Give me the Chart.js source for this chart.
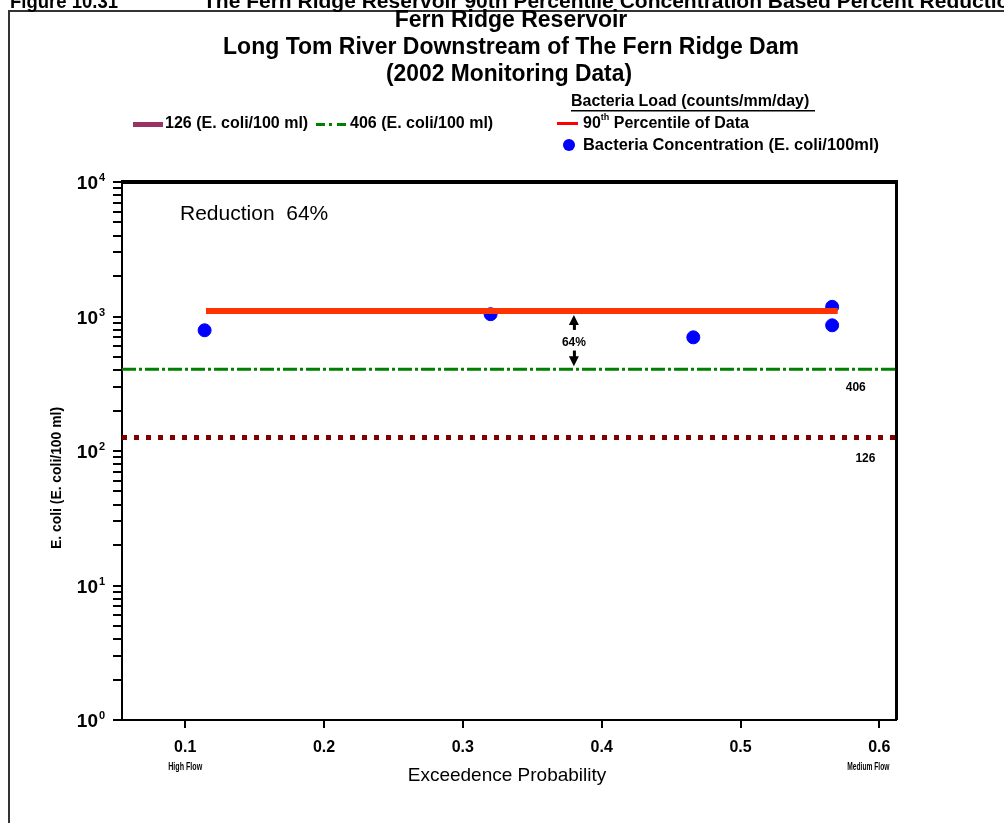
<!DOCTYPE html>
<html>
<head>
<meta charset="utf-8">
<script src="https://cdn.jsdelivr.net/npm/chart.js@4.4.0/dist/chart.umd.min.js"></script>
<style>
body{margin:0;background:#fff}
</style>
</head>
<body>
<canvas id="chart" width="1004" height="823"></canvas>
<script>
// monitoring samples (exceedence probability, E. coli /100 ml)
const exceedence = [0.114, 0.320, 0.466, 0.566, 0.566]
const ecoli = [790, 1040, 700, 1180, 860]

// 90th percentile of data
const pctX = [0.115, 0.570]
const pctY = [1100, 1100]

// criteria lines
const critX = [0.0545, 0.612]
const crit406 = [406, 406]
const crit126 = [126, 126]

const xTicks = [0.1, 0.2, 0.3, 0.4, 0.5, 0.6]
const yDecades = [1, 10, 100, 1000, 10000]
const yExp = ["0", "1", "2", "3", "4"]
const reduction = "64%"

const NARROW = '"Liberation Sans Narrow","Liberation Sans",Arial,sans-serif'
const SANS = '"Liberation Sans",Arial,sans-serif'

// minor + major log ticks
const yTicks = []
yDecades.slice(0, -1).forEach(d => {
  for (let m = 1; m < 10; m++) yTicks.push(d * m)
})
yTicks.push(10000)

function txt(ctx, s, x, y, font, align, maxW) {
  ctx.font = font
  ctx.textAlign = align || "left"
  ctx.textBaseline = "middle"
  ctx.fillStyle = "#000"
  if (maxW) ctx.fillText(s, x, y, maxW)
  else ctx.fillText(s, x, y)
}

const extras = {
  id: "extras",
  afterDraw(chart) {
    const ctx = chart.ctx
    const sx = chart.scales.x
    const sy = chart.scales.y
    const a = chart.chartArea
    ctx.save()

    // page frame
    ctx.strokeStyle = "#333"
    ctx.lineWidth = 2
    ctx.beginPath()
    ctx.moveTo(9, 823)
    ctx.lineTo(9, 11)
    ctx.lineTo(1004, 11)
    ctx.stroke()

    // figure caption (cut at top)
    ctx.font = "bold 21px " + SANS
    ctx.textAlign = "left"
    ctx.textBaseline = "alphabetic"
    ctx.fillStyle = "#000"
    ctx.fillText("Figure 10.31", 10, 8, 108)
    ctx.fillText("The Fern Ridge Reservoir 90th Percentile Concentration Based Percent Reduction", 203, 8)

    // titles
    txt(ctx, "Fern Ridge Reservoir", 511, 21, "bold 23px " + NARROW, "center", 233)
    txt(ctx, "Long Tom River Downstream of The Fern Ridge Dam", 511, 48, "bold 23px " + NARROW, "center", 578)
    txt(ctx, "(2002 Monitoring Data)", 509, 75, "bold 23px " + NARROW, "center", 246)

    // legend
    ctx.fillStyle = "#993366"
    ctx.fillRect(133, 122, 30, 5)
    txt(ctx, "126 (E. coli/100 ml)", 165, 124, "bold 16px " + NARROW, "left", 146)
    ctx.strokeStyle = "#008000"
    ctx.lineWidth = 3
    ctx.setLineDash([9, 4, 3, 5])
    ctx.beginPath()
    ctx.moveTo(316, 124.5)
    ctx.lineTo(346, 124.5)
    ctx.stroke()
    ctx.setLineDash([])
    txt(ctx, "406 (E. coli/100 ml)", 350, 124, "bold 16px " + NARROW, "left", 148)

    txt(ctx, "Bacteria Load (counts/mm/day)", 571, 102, "bold 16px " + NARROW, "left", 244)
    ctx.fillStyle = "#000"
    ctx.fillRect(571, 110, 244, 1.5)
    ctx.fillStyle = "#ff0000"
    ctx.fillRect(557, 122, 21, 3)
    txt(ctx, "90", 583, 124, "bold 16px " + NARROW, "left")
    let w = ctx.measureText("90").width
    txt(ctx, "th", 583 + w, 118, "bold 9px " + NARROW, "left")
    let w2 = ctx.measureText("th").width
    txt(ctx, " Percentile of Data", 583 + w + w2, 124, "bold 16px " + NARROW, "left", 757 - 583 - w - w2)
    ctx.fillStyle = "#0000ff"
    ctx.beginPath()
    ctx.arc(569, 145, 6, 0, Math.PI * 2)
    ctx.fill()
    txt(ctx, "Bacteria Concentration (E. coli/100ml)", 583, 145, "bold 17px " + NARROW, "left", 296)

    // plot frame top and right
    ctx.fillStyle = "#000"
    ctx.fillRect(a.left - 1, a.top - 2, a.right - a.left + 3, 4)
    ctx.fillRect(a.right - 1, a.top, 3, a.bottom - a.top)

    // y tick labels 10^n
    yDecades.forEach((v, i) => {
      const y = sy.getPixelForValue(v)
      txt(ctx, "10", 98, y + 2, "bold 19px " + SANS, "right")
      txt(ctx, yExp[i], 99, y - 4, "bold 11px " + SANS, "left")
    })

    // axis titles
    ctx.save()
    ctx.translate(57, 478)
    ctx.rotate(-Math.PI / 2)
    txt(ctx, "E. coli (E. coli/100 ml)", 0, 0, "bold 15px " + NARROW, "center", 142)
    ctx.restore()
    txt(ctx, "Exceedence Probability", 507, 776, "19px " + NARROW, "center", 212)
    txt(ctx, "High Flow", sx.getPixelForValue(0.1), 767, "bold 11px " + NARROW, "center", 34)
    txt(ctx, "Medium Flow", sx.getPixelForValue(0.6) - 11, 767, "bold 11px " + NARROW, "center", 42)

    // reduction text
    txt(ctx, "Reduction  " + reduction, 180, 214, "21px " + SANS, "left", 158)

    // criteria labels
    txt(ctx, String(crit406[0]), sx.getPixelForValue(0.583), sy.getPixelForValue(crit406[0]) + 19, "bold 12px " + SANS, "center")
    txt(ctx, String(crit126[0]), sx.getPixelForValue(0.590), sy.getPixelForValue(crit126[0]) + 21, "bold 12px " + SANS, "center")

    // reduction arrows between percentile and criterion
    const ax = sx.getPixelForValue(0.38)
    const yTop = sy.getPixelForValue(pctY[0]) + 4
    const yBot = sy.getPixelForValue(crit406[0]) - 3
    const ym = (yTop + yBot) / 2 + 2
    ctx.fillStyle = "#000"
    ctx.beginPath()
    ctx.moveTo(ax, yTop)
    ctx.lineTo(ax - 5, yTop + 10)
    ctx.lineTo(ax + 5, yTop + 10)
    ctx.closePath()
    ctx.fill()
    ctx.fillRect(ax - 1, yTop + 8, 3, 7)
    txt(ctx, reduction, ax, ym, "bold 12px " + NARROW, "center")
    ctx.fillRect(ax - 1, ym + 8, 3, 9)
    ctx.beginPath()
    ctx.moveTo(ax, yBot)
    ctx.lineTo(ax - 5, yBot - 10)
    ctx.lineTo(ax + 5, yBot - 10)
    ctx.closePath()
    ctx.fill()

    ctx.restore()
  }
}

new Chart(
  document.getElementById("chart"),
  {
    type: "scatter",
    data: {
      datasets: [
        {
          label: "90th Percentile of Data",
          data: pctX.map((x, i) => ({ x: x, y: pctY[i] })),
          showLine: true,
          borderColor: "#ff3300",
          borderWidth: 6,
          pointRadius: 0,
          order: 0
        },
        {
          label: "Bacteria Concentration (E. coli/100ml)",
          data: exceedence.map((x, i) => ({ x: x, y: ecoli[i] })),
          backgroundColor: "#0000ff",
          borderColor: "#0000ff",
          pointRadius: 6.5,
          order: 1
        },
        {
          label: "406 (E. coli/100 ml)",
          data: critX.map((x, i) => ({ x: x, y: crit406[i] })),
          showLine: true,
          borderColor: "#008000",
          borderWidth: 3,
          borderDash: [14, 3, 3, 3],
          pointRadius: 0,
          order: 2
        },
        {
          label: "126 (E. coli/100 ml)",
          data: critX.map((x, i) => ({ x: x, y: crit126[i] })),
          showLine: true,
          borderColor: "#800000",
          borderWidth: 5,
          borderDash: [5, 7],
          pointRadius: 0,
          order: 3
        }
      ]
    },
    options: {
      responsive: false,
      animation: false,
      layout: { padding: { left: 0, top: 182, right: 108, bottom: 0 } },
      plugins: {
        legend: { display: false },
        tooltip: { enabled: false }
      },
      scales: {
        x: {
          type: "linear",
          min: critX[0],
          max: critX[1],
          afterBuildTicks: s => { s.ticks = xTicks.map(v => ({ value: v })) },
          afterFit: s => { s.height = 103 },
          ticks: {
            color: "#000",
            padding: 10,
            font: { family: NARROW, size: 16, weight: "bold" },
            callback: v => v.toFixed(1)
          },
          grid: { drawOnChartArea: false, color: "#000", lineWidth: 2, tickLength: 8 },
          border: { color: "#000", width: 2 }
        },
        y: {
          type: "logarithmic",
          min: 1,
          max: 10000,
          afterBuildTicks: s => { s.ticks = yTicks.map(v => ({ value: v })) },
          afterFit: s => { s.width = 122 },
          ticks: { display: false },
          grid: { drawOnChartArea: false, color: "#000", lineWidth: 2, tickLength: 9 },
          border: { color: "#000", width: 2 }
        }
      }
    },
    plugins: [extras]
  }
)
</script>
</body>
</html>
